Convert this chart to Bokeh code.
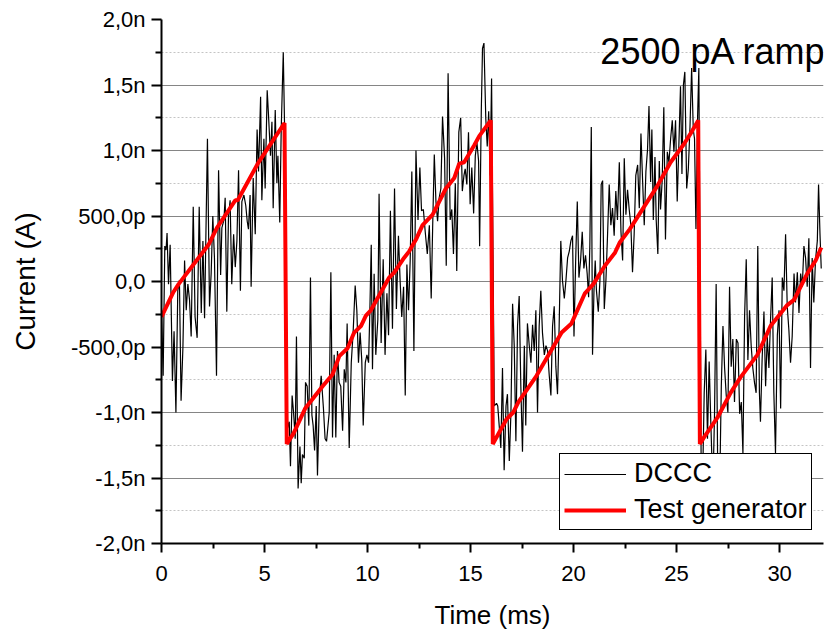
import numpy as np
from bokeh.plotting import figure
from bokeh.models import (Range1d, FixedTicker, CustomJSTickFormatter, Legend, LegendItem,
                          Label, ColumnDataSource)
from bokeh.embed import file_html
from bokeh.resources import INLINE

# ---------------- data (current in nA, time in ms) ----------------
dccc_t = [0.00, 0.08, 0.16, 0.22, 0.27, 0.34, 0.42, 0.53, 0.61, 0.70, 0.79, 0.87, 0.95, 1.04,
          1.12, 1.20, 1.28, 1.36, 1.44, 1.54, 1.63, 1.73, 1.83, 1.93, 2.01, 2.09, 2.23, 2.33,
          2.41, 2.49, 2.57, 2.67, 2.77, 2.87, 2.93, 3.03, 3.09, 3.17, 3.25, 3.33, 3.41, 3.50,
          3.58, 3.66, 3.74, 3.83, 3.90, 4.00, 4.09, 4.16, 4.22, 4.30, 4.35, 4.45, 4.55, 4.64,
          4.71, 4.81, 4.87, 4.97, 5.03, 5.13, 5.19, 5.29, 5.36, 5.42, 5.52, 5.60, 5.65, 5.74,
          5.81, 5.91, 5.97, 6.12, 6.20, 6.26, 6.34, 6.41, 6.49, 6.55, 6.63, 6.72, 6.78, 6.84,
          6.93, 6.99, 7.07, 7.15, 7.23, 7.30, 7.36, 7.43, 7.51, 7.57, 7.67, 7.75, 7.86, 7.94,
          8.01, 8.07, 8.14, 8.22, 8.30, 8.38, 8.46, 8.54, 8.62, 8.70, 8.79, 8.87, 8.95, 9.01,
          9.11, 9.21, 9.30, 9.40, 9.48, 9.56, 9.64, 9.72, 9.79, 9.89, 9.97, 10.05, 10.11, 10.18,
          10.24, 10.32, 10.40, 10.50, 10.56, 10.66, 10.76, 10.85, 10.94, 11.02, 11.11, 11.21,
          11.31, 11.40, 11.50, 11.58, 11.66, 11.75, 11.83, 11.91, 11.99, 12.07, 12.15, 12.25,
          12.35, 12.45, 12.54, 12.62, 12.71, 12.80, 12.90, 13.00, 13.09, 13.16, 13.24, 13.32,
          13.40, 13.48, 13.56, 13.64, 13.74, 13.82, 13.91, 14.01, 14.09, 14.17, 14.26, 14.33,
          14.43, 14.52, 14.60, 14.68, 14.74, 14.82, 14.90, 14.98, 15.06, 15.15, 15.23, 15.31,
          15.39, 15.44, 15.52, 15.58, 15.65, 15.74, 15.81, 15.88, 15.95, 16.02, 16.15, 16.26,
          16.32, 16.39, 16.47, 16.55, 16.63, 16.72, 16.79, 16.88, 16.96, 17.04, 17.12, 17.20,
          17.28, 17.36, 17.44, 17.52, 17.61, 17.68, 17.76, 17.85, 17.93, 18.01, 18.09, 18.17,
          18.25, 18.33, 18.41, 18.49, 18.58, 18.66, 18.74, 18.82, 18.90, 18.98, 19.06, 19.14,
          19.22, 19.30, 19.38, 19.46, 19.55, 19.63, 19.71, 19.79, 19.87, 19.95, 20.02, 20.10,
          20.18, 20.26, 20.34, 20.42, 20.50, 20.58, 20.66, 20.73, 20.79, 20.86, 20.92, 20.99,
          21.05, 21.11, 21.20, 21.28, 21.34, 21.41, 21.49, 21.57, 21.65, 21.73, 21.81, 21.89,
          21.97, 22.05, 22.13, 22.22, 22.30, 22.38, 22.46, 22.54, 22.62, 22.70, 22.78, 22.86,
          22.94, 23.02, 23.11, 23.19, 23.27, 23.35, 23.43, 23.51, 23.59, 23.66, 23.74, 23.80,
          23.87, 23.95, 24.01, 24.09, 24.16, 24.22, 24.30, 24.38, 24.46, 24.55, 24.63, 24.71,
          24.79, 24.87, 24.95, 25.03, 25.11, 25.19, 25.26, 25.33, 25.40, 25.49, 25.57, 25.65,
          25.73, 25.81, 25.87, 25.94, 26.02, 26.08, 26.19, 26.26, 26.34, 26.42, 26.50, 26.58,
          26.66, 26.76, 26.84, 26.92, 26.99, 27.09, 27.17, 27.25, 27.33, 27.41, 27.49, 27.57,
          27.65, 27.73, 27.81, 27.90, 27.98, 28.06, 28.14, 28.22, 28.30, 28.38, 28.46, 28.54,
          28.62, 28.70, 28.78, 28.86, 28.94, 29.02, 29.07, 29.15, 29.24, 29.32, 29.40, 29.48,
          29.56, 29.64, 29.72, 29.80, 29.89, 29.97, 30.05, 30.13, 30.21, 30.29, 30.37, 30.45,
          30.53, 30.61, 30.70, 30.77, 30.86, 30.94, 31.02, 31.10, 31.18, 31.26, 31.34, 31.42,
          31.50, 31.58, 31.66, 31.74, 31.83, 31.89, 31.96, 32.02]

dccc_i = [-0.20, -0.72, 0.27, 0.24, 0.37, -0.02, 0.28, -0.76, -0.38, -1.00, -0.07, 0.01, -0.91, -0.50,
          0.16, -0.22, -0.02, -0.14, -0.42, 0.57, -0.27, -0.43, 0.57, -0.24, 0.31, -0.28, 1.09, -0.19,
          0.06, 0.50, 0.18, -0.72, 0.85, 0.05, 0.41, 0.47, 0.64, -0.23, 0.49, 0.62, -0.02, 0.36,
          0.11, 0.31, 0.85, -0.07, 0.61, 0.66, 0.58, 0.46, 0.40, 0.66, -0.04, 0.79, 0.36, 1.16,
          0.84, 1.41, 0.62, 1.09, 0.71, 1.46, 1.28, 0.96, 1.22, 0.56, 1.31, 0.75, 0.96, 0.45,
          1.16, 1.75, 1.21, -1.12, -1.07, -1.41, -0.87, -1.00, -1.20, -0.42, -1.58, -1.26, -1.54, -1.32,
          -1.35, -0.77, -0.80, -1.10, 0.03, -1.02, -1.10, -1.29, -0.95, -1.48, -0.87, -0.72, -0.97, -1.20,
          -1.22, -1.12, -1.00, 0.07, -1.19, -0.56, -1.19, -0.53, -0.77, -0.80, -1.14, -0.67, -0.77, -0.32,
          -1.27, -0.62, -0.39, -0.03, -0.22, -0.62, -0.39, -0.60, -1.10, -0.62, -0.56, -0.62, -0.24, 0.28,
          -0.67, 0.06, -0.56, -0.29, 0.67, -0.47, 0.17, -0.56, -0.09, -0.41, 0.54, -0.36,
          0.71, -0.21, 0.35, 0.01, -0.27, -0.04, -0.87, 0.13, -0.22, 0.16, 0.84, -0.53,
          1.00, 0.47, 0.87, 0.54, 0.55, 0.38, 0.21, 0.43, -0.13, 0.41, 0.97, 0.61,
          0.46, 0.64, 0.71, 1.26, 0.94, 0.12, 1.59, 0.47, 0.55, 0.21, 0.75, 0.08,
          1.14, 1.25, 0.69, 0.81, 0.86, 0.74, 1.14, 0.59, 0.87, 0.52, 0.96, 1.06,
          0.92, 0.27, 1.29, 1.78, 1.82, 1.24, 1.03, 1.30, 0.81, 1.55, -0.95, -0.93,
          -0.95, -1.10, -1.27, -0.66, -1.44, -0.95, -0.86, -1.37, -1.00, -0.17, -0.49, -1.22,
          -0.34, -0.11, -0.80, -1.30, -0.49, -1.10, -0.32, -0.49, -0.62, -0.33, -0.53, -0.22,
          -1.00, -0.34, -0.07, -0.39, -0.56, -0.49, -0.53, -0.72, -0.87, -0.34, -0.19, -0.65,
          -0.86, -0.34, 0.31, 0.01, -0.13, 0.01, 0.18, 0.23, 0.31, 0.35, -0.42, 0.15,
          0.61, 0.03, 0.16, 0.38, 0.10, 0.20, 0.06, -0.12, 0.28, 1.18, -0.56, -0.07,
          0.16, -0.07, -0.23, 0.01, 0.74, 0.77, -0.21, 0.01, 0.36, 0.74, 0.43, 0.56,
          0.35, 0.69, 0.47, 0.91, 0.38, 0.16, 0.94, 0.51, 0.70, 0.55, 0.43, 0.07,
          0.36, 0.81, 0.89, 0.56, 1.13, 0.77, 0.43, 0.84, 1.01, 1.34, 0.76, 1.16,
          0.47, 0.95, 0.47, 0.21, 0.92, 0.55, 0.77, 1.33, 0.32, 0.99, 0.91, 1.09,
          1.23, 0.99, 1.23, 0.61, 1.04, 1.49, 0.82, 1.50, 1.60, 0.71, 0.86, 1.18,
          1.63, 1.16, 1.09, 0.40, 1.26, 1.63, -1.35, -1.55, -0.85, -0.52, -1.20, -0.61,
          -1.07, -1.60, -1.02, -0.02, -1.35, -1.60, -0.80, -0.34, -0.66, -0.87, -1.00, -0.04,
          -0.65, -0.44, -0.92, -0.44, -0.47, -1.01, -0.92, -1.31, -0.27, 0.17, -0.60, -0.22,
          -0.49, -0.66, -0.77, -0.85, 0.27, -0.85, -1.07, -0.60, -0.23, -0.80, -0.42, -0.66,
          -0.29, 0.03, -0.85, -1.31, -0.41, -0.22, -0.97, 0.03, -0.07, 0.36, -0.19, -0.37,
          -0.62, -0.42, 0.06, -0.16, 0.07, -0.24, 0.06, -0.04, 0.27, 0.18, -0.04, 0.33,
          -0.66, 0.18, -0.16, 0.16, 0.31, 0.74, 0.36, 0.10]

gen_t = [0.0, 0.58, 0.83, 2.28, 2.69, 3.58, 3.70, 4.71, 5.97, 6.08, 6.41, 6.97, 7.82, 8.30,
         8.63, 9.03, 9.35, 9.68, 9.92, 10.16, 11.05, 11.30, 11.77, 12.02, 12.35, 12.67, 13.16,
         13.80, 14.21, 14.45, 14.69, 15.18, 15.42, 15.98, 16.08, 16.75, 17.07, 17.32, 18.20,
         18.53, 19.42, 19.90, 20.55, 20.96, 21.52, 22.01, 22.25, 22.73, 23.38, 24.03, 24.71,
         25.36, 25.76, 26.05, 26.13, 26.33, 26.98, 27.62, 28.11, 28.92, 29.56, 30.37, 30.70,
         31.34, 31.75, 32.02]
gen_i = [-0.27, -0.08, -0.02, 0.28, 0.41, 0.62, 0.62, 0.91, 1.21, -1.24, -1.16, -0.97, -0.80, -0.71,
         -0.57, -0.51, -0.39, -0.34, -0.26, -0.22, 0.03, 0.07, 0.18, 0.23, 0.32, 0.43, 0.51,
         0.71, 0.79, 0.90, 0.91, 1.04, 1.11, 1.23, -1.24, -1.05, -1.00, -0.92, -0.72,
         -0.63, -0.39, -0.32, -0.09, -0.02, 0.12, 0.22, 0.30, 0.40, 0.56, 0.72, 0.91,
         1.05, 1.15, 1.23, -1.24, -1.19, -1.04, -0.85, -0.73, -0.56, -0.34, -0.18, -0.14,
         0.06, 0.16, 0.26]

x_ticks = [0, 5, 10, 15, 20, 25, 30]
y_ticks = [-2.0, -1.5, -1.0, -0.5, 0.0, 0.5, 1.0, 1.5, 2.0]
y_tick_labels = ["-2,0n", "-1,5n", "-1,0n", "-500,0p", "0,0", "500,0p", "1,0n", "1,5n", "2,0n"]
series_names = ["DCCC", "Test generator"]
title_text = "2500 pA ramp"
x_label = "Time (ms)"
y_label = "Current (A)"

FONT = "Liberation Sans"

p = figure(width=838, height=632, x_range=Range1d(0, 32.13), y_range=Range1d(-2, 2),
           output_backend="svg", toolbar_location=None,
           min_border_left=161, min_border_right=15, min_border_top=19, min_border_bottom=82)
p.outline_line_color = None
p.background_fill_color = "white"
p.border_fill_color = "white"

# grid
p.xgrid.grid_line_color = None
p.ygrid.grid_line_color = "#858585"
p.ygrid.grid_line_width = 1
p.ygrid.minor_grid_line_color = "#c4c4c4"
p.ygrid.minor_grid_line_dash = "2 2"
p.ygrid.minor_grid_line_width = 1

xt = np.array(x_ticks, dtype=float)
yt = np.array(y_ticks, dtype=float)
x_minor = list((xt + 2.5))
y_minor = list((yt[:-1] + yt[1:]) / 2)

p.xaxis.ticker = FixedTicker(ticks=x_ticks, minor_ticks=x_minor)
p.yaxis.ticker = FixedTicker(ticks=y_ticks, minor_ticks=y_minor)
p.ygrid.ticker = p.yaxis.ticker
p.yaxis.formatter = CustomJSTickFormatter(
    args=dict(vals=y_ticks, labs=y_tick_labels),
    code="const i = vals.findIndex(v => Math.abs(v - tick) < 1e-9); return i >= 0 ? labs[i] : '';")

for ax in (p.xaxis[0], p.yaxis[0]):
    ax.axis_line_color = "black"
    ax.axis_line_width = 2
    ax.major_tick_line_color = "black"
    ax.major_tick_line_width = 2
    ax.minor_tick_line_color = "black"
    ax.minor_tick_line_width = 2
    ax.major_tick_in = 0
    ax.minor_tick_in = 0
    ax.major_label_text_font = FONT
    ax.major_label_text_font_size = "22px"
    ax.major_label_text_color = "black"
    ax.axis_label_text_font = FONT
    ax.axis_label_text_font_style = "normal"
    ax.axis_label_text_color = "black"

p.xaxis.major_tick_out = 9
p.xaxis.minor_tick_out = 5
p.yaxis.major_tick_out = 10
p.yaxis.minor_tick_out = 6
p.xaxis.major_label_standoff = 13
p.yaxis.major_label_standoff = 6
p.xaxis.axis_label = x_label
p.yaxis.axis_label = y_label
p.xaxis.axis_label_text_font_size = "26px"
p.yaxis.axis_label_text_font_size = "28px"
p.xaxis.axis_label_standoff = 16
p.yaxis.axis_label_standoff = 27

src_d = ColumnDataSource(dict(t=dccc_t, i=dccc_i))
src_g = ColumnDataSource(dict(t=gen_t, i=gen_i))
r_d = p.line("t", "i", source=src_d, line_color="black", line_width=1.2)
r_g = p.line("t", "i", source=src_g, line_color="#ff0000", line_width=4)

legend = Legend(items=[LegendItem(label=series_names[0], renderers=[r_d]),
                       LegendItem(label=series_names[1], renderers=[r_g])],
                location=(398, 13), margin=0, padding=4, spacing=5,
                glyph_width=62, glyph_height=30, label_height=30, label_standoff=8,
                label_text_font=FONT, label_text_font_size="27px", label_text_color="black",
                border_line_color="black", border_line_width=1, border_line_alpha=1.0,
                background_fill_color="white", background_fill_alpha=1.0)
p.add_layout(legend)

p.add_layout(Label(x=21.3, y=1.755, text=title_text, text_font=FONT, text_font_size="36px",
                   text_baseline="alphabetic", text_color="black"))

open("out.html", "w").write(file_html(p, INLINE))
